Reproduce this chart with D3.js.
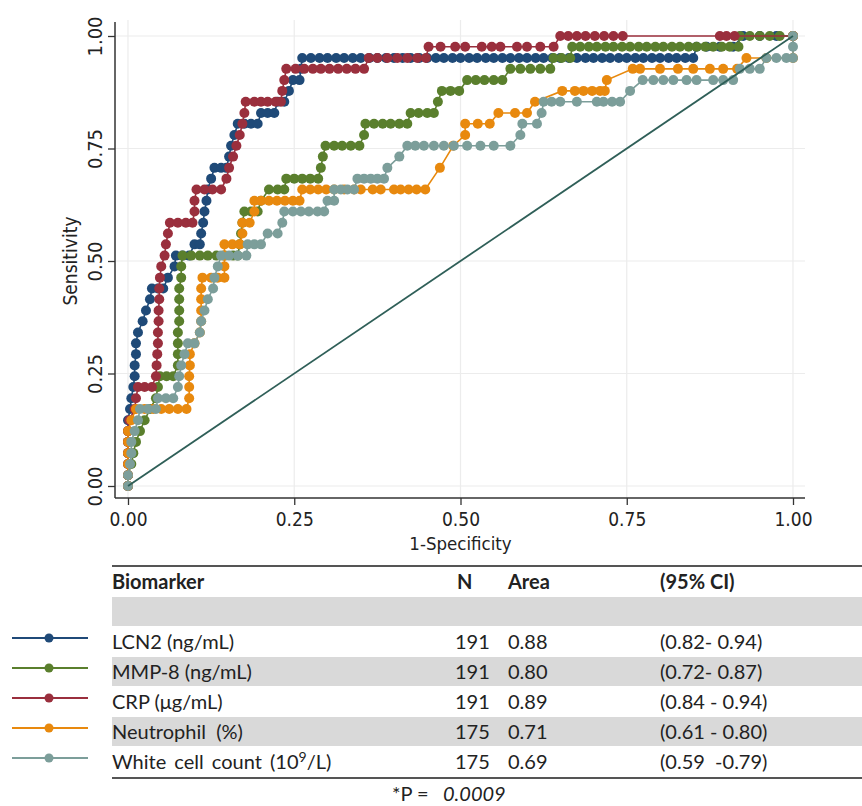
<!DOCTYPE html>
<html>
<head>
<meta charset="utf-8">
<script src="https://cdn.jsdelivr.net/npm/d3@7"></script>
<style>body{margin:0;background:#fff} text{white-space:pre}</style>
</head>
<body>
<script>
// axis ticks
var xTicks = [0, 0.25, 0.5, 0.75, 1]
var yTicks = [0, 0.25, 0.5, 0.75, 1]

// ROC points: [1-specificity, sensitivity]
var lcn2 = [[0,0],[0,.024],[0,.049],[0,.073],[0,.098],[0,.122],[0,.146],[.003,.171],[.005,.195],[.008,.22],[.01,.244],[.01,.268],[.012,.293],[.012,.317],[.015,.341],[.022,.366],[.027,.39],[.033,.415],[.036,.439],[.045,.439],[.053,.439],[.06,.463],[.07,.488],[.072,.512],[.082,.512],[.092,.512],[.1,.537],[.108,.537],[.11,.561],[.113,.585],[.115,.61],[.118,.634],[.12,.659],[.125,.683],[.13,.707],[.14,.707],[.148,.707],[.152,.732],[.155,.756],[.16,.78],[.165,.805],[.175,.805],[.185,.805],[.195,.805],[.2,.829],[.21,.829],[.22,.829],[.225,.854],[.235,.854],[.242,.878],[.248,.902],[.258,.902],[.26,.927],[.262,.951],
  [.275,.951],[.288,.951],[.3,.951],[.313,.951],[.325,.951],[.338,.951],[.35,.951],[.363,.951],[.375,.951],[.388,.951],[.4,.951],[.413,.951],[.425,.951],[.438,.951],[.45,.951],[.463,.951],[.475,.951],[.488,.951],[.5,.951],[.513,.951],[.525,.951],[.538,.951],[.55,.951],[.563,.951],[.575,.951],[.588,.951],[.6,.951],[.613,.951],[.625,.951],[.638,.951],[.65,.951],[.663,.951],[.675,.951],[.688,.951],[.7,.951],[.713,.951],[.725,.951],[.738,.951],[.75,.951],[.763,.951],[.775,.951],[.788,.951],[.8,.951],[.813,.951],[.825,.951],[.838,.951],[.85,.951],
  [.855,.976],[.87,.976],[.89,.976],[.91,.976],[.925,1],[.95,1],[.975,1],[1,1]]
var mmp8 = [[0,0],[0,.024],[.005,.049],[.008,.073],[.012,.098],[.018,.122],[.025,.146],[.033,.171],[.042,.195],[.045,.22],[.048,.244],[.058,.244],[.068,.244],[.075,.268],[.075,.293],[.075,.317],[.075,.341],[.077,.366],[.077,.39],[.077,.415],[.077,.439],[.08,.463],[.08,.488],[.082,.512],[.095,.512],[.108,.512],[.12,.512],[.133,.512],[.145,.512],[.158,.512],[.165,.512],[.168,.537],[.17,.561],[.172,.585],[.175,.61],[.185,.61],[.195,.61],[.2,.634],[.212,.659],[.225,.659],[.235,.659],[.238,.683],[.25,.683],[.262,.683],[.274,.683],[.286,.683],[.29,.707],[.293,.732],[.297,.756],[.31,.756],[.322,.756],[.335,.756],[.348,.756],[.355,.78],[.357,.805],[.37,.805],[.383,.805],[.395,.805],[.408,.805],[.42,.805],[.425,.829],[.437,.829],[.45,.829],[.46,.829],[.466,.854],[.472,.878],[.485,.878],[.498,.878],[.51,.902],[.523,.902],[.536,.902],[.55,.902],[.563,.902],[.575,.927],[.59,.927],[.605,.927],[.62,.927],[.635,.927],[.64,.951],[.652,.951],[.665,.951],
  [.668,.976],[.68,.976],[.693,.976],[.705,.976],[.718,.976],[.73,.976],[.743,.976],[.755,.976],[.768,.976],[.78,.976],[.793,.976],[.805,.976],[.818,.976],[.83,.976],[.843,.976],[.855,.976],[.868,.976],[.88,.976],[.893,.976],[.905,.976],[.918,.976],
  [.92,1],[.935,1],[.95,1],[.965,1],[.98,1],[1,1]]
var crp = [[0,0],[0,.024],[0,.049],[0,.073],[0,.098],[0,.122],[.002,.146],[.01,.171],[.012,.195],[.015,.22],[.025,.22],[.036,.22],[.042,.244],[.043,.268],[.044,.293],[.045,.317],[.045,.341],[.046,.366],[.046,.39],[.047,.415],[.047,.439],[.048,.463],[.05,.488],[.055,.512],[.057,.537],[.06,.561],[.063,.585],[.075,.585],[.087,.585],[.097,.585],[.1,.61],[.1,.634],[.103,.659],[.115,.659],[.127,.659],[.14,.659],[.148,.683],[.152,.707],[.158,.732],[.163,.756],[.168,.78],[.172,.805],[.175,.829],[.177,.854],[.19,.854],[.2,.854],[.21,.854],[.222,.854],[.23,.854],[.232,.878],[.235,.902],[.238,.927],
  [.252,.927],[.265,.927],[.278,.927],[.29,.927],[.303,.927],[.316,.927],[.329,.927],[.342,.927],[.355,.927],[.362,.951],[.375,.951],[.39,.951],[.405,.951],[.42,.951],[.435,.951],[.448,.951],
  [.452,.976],[.47,.976],[.492,.976],[.507,.976],[.532,.976],[.547,.976],[.56,.976],[.585,.976],[.6,.976],[.62,.976],[.64,.976],
  [.65,1],[.662,1],[.675,1],[.688,1],[.702,1],[.716,1],[.73,1],[.744,1],[.89,1],[.9,1],[.912,1],[1,1]]
var neutrophil = [[0,0],[0,.024],[0,.049],[0,.073],[0,.098],[0,.122],[.005,.146],[.012,.171],[.025,.171],[.038,.171],[.05,.171],[.062,.171],[.075,.171],[.088,.171],[.092,.195],[.092,.22],[.092,.244],[.093,.268],[.093,.293],[.1,.317],[.108,.341],[.11,.366],[.11,.39],[.11,.415],[.11,.439],[.112,.463],[.125,.463],[.135,.463],[.145,.463],[.145,.488],[.145,.512],[.145,.537],[.157,.537],[.168,.537],[.172,.561],[.172,.585],[.183,.585],[.19,.61],[.19,.634],[.2,.634],[.212,.634],[.224,.634],[.236,.634],[.248,.634],[.258,.634],
  [.262,.659],[.274,.659],[.286,.659],[.298,.659],[.31,.659],[.325,.659],[.34,.659],[.35,.659],[.368,.659],[.38,.659],[.4,.659],[.41,.659],[.422,.659],[.434,.659],[.447,.659],
  [.469,.707],[.489,.756],[.507,.78],[.507,.805],[.526,.805],[.544,.805],[.557,.829],[.582,.829],[.6,.829],[.612,.854],[.653,.878],[.672,.878],[.685,.878],[.698,.878],[.71,.878],[.717,.878],[.72,.902],
  [.759,.927],[.77,.927],[.8,.927],[.827,.927],[.85,.927],[.875,.927],[.895,.927],[.916,.927],[.93,.951],[.96,.951],[1,.951],[1,1]]
var wbc = [[0,0],[0,.024],[.003,.049],[.005,.073],[.005,.098],[.01,.122],[.015,.146],[.018,.171],[.03,.171],[.042,.171],[.045,.195],[.057,.195],[.068,.195],[.075,.22],[.077,.244],[.08,.268],[.085,.293],[.09,.317],[.1,.317],[.108,.341],[.11,.366],[.115,.39],[.12,.415],[.128,.439],[.13,.463],[.135,.488],[.14,.512],[.152,.512],[.165,.512],[.178,.512],[.18,.537],[.19,.537],[.2,.537],[.21,.561],[.225,.561],[.232,.585],[.235,.61],[.248,.61],[.26,.61],[.272,.61],[.285,.61],[.295,.61],[.3,.634],[.31,.634],[.31,.659],[.32,.659],[.33,.659],[.34,.659],[.345,.683],[.355,.683],[.365,.683],[.375,.683],[.385,.683],[.39,.707],[.408,.732],
  [.42,.756],[.432,.756],[.445,.756],[.46,.756],[.475,.756],[.49,.756],[.51,.756],[.53,.756],[.55,.756],[.575,.756],[.59,.78],[.593,.805],[.615,.805],[.622,.829],[.625,.854],[.637,.854],[.65,.854],[.675,.854],[.705,.854],[.715,.854],[.728,.854],[.74,.854],[.755,.878],
  [.774,.902],[.79,.902],[.805,.902],[.82,.902],[.84,.902],[.855,.902],[.88,.902],[.895,.902],[.91,.902],[.92,.927],[.935,.927],[.95,.927],[.96,.951],[.975,.951],[.99,.951],[1,.951],[1,.976],[1,1]]
var reference = [[0,0],[1,1]]

// table
var markers = ["LCN2 (ng/mL)", "MMP-8 (ng/mL)", "CRP (\u03bcg/mL)", "Neutrophil  (%)", "White cell count (10"]
var nVals = ["191", "191", "191", "175", "175"]
var areas = ["0.88", "0.80", "0.89", "0.71", "0.69"]
var cis = ["(0.82- 0.94)", "(0.72- 0.87)", "(0.84 - 0.94)", "(0.61 - 0.80)", "(0.59  -0.79)"]
var colors = ["#1f4a78", "#5a7f2d", "#9a2f3d", "#e8890e", "#7c9e9a"]
var pValue = "0.0009"

var series = [lcn2, mmp8, crp, neutrophil, wbc].map((pts, i) => ({name: markers[i], color: colors[i], pts: pts}))

var W = 862, H = 806
var plot = {left: 115, right: 805, top: 20, bottom: 498}
var tickFont = "'Liberation Sans Narrow', 'Arial Narrow', 'DejaVu Sans Condensed', sans-serif"
var tableFont = "Lato, 'Open Sans', sans-serif"

var svg = d3.select("body").append("svg")
    .attr("width", W)
    .attr("height", H)

var x = d3.scaleLinear().domain([0, 1]).range([128, 793])
var y = d3.scaleLinear().domain([0, 1]).range([486, 36])

// grid
svg.append("g").selectAll("line").data(xTicks).join("line")
    .attr("x1", d => x(d)).attr("x2", d => x(d))
    .attr("y1", plot.top).attr("y2", plot.bottom)
    .attr("stroke", "#ececec").attr("stroke-width", 1.2)
svg.append("g").selectAll("line").data(yTicks).join("line")
    .attr("x1", plot.left).attr("x2", plot.right)
    .attr("y1", d => y(d)).attr("y2", d => y(d))
    .attr("stroke", "#ececec").attr("stroke-width", 1.2)

// axes
svg.append("g")
    .attr("transform", `translate(0,${plot.bottom})`)
    .call(d3.axisBottom(x).tickValues(xTicks).tickFormat(d3.format(".2f")).tickSize(7).tickPadding(8).tickSizeOuter(0))
    .call(g => g.select(".domain").remove())
    .attr("font-family", tickFont).attr("font-size", 19)
    .call(g => g.selectAll("line").attr("stroke", "#333").attr("stroke-width", 1.3))
    .call(g => g.selectAll("text").attr("fill", "#222"))

svg.append("g")
    .attr("transform", `translate(${plot.left},0)`)
    .call(d3.axisLeft(y).tickValues(yTicks).tickFormat(d3.format(".2f")).tickSize(7).tickSizeOuter(0))
    .call(g => g.select(".domain").remove())
    .attr("font-family", tickFont).attr("font-size", 20)
    .call(g => g.selectAll("line").attr("stroke", "#333").attr("stroke-width", 1.3))
    .call(g => g.selectAll("text")
        .attr("fill", "#222")
        .attr("transform", "rotate(-90)")
        .attr("x", 0).attr("y", -13).attr("dy", 0)
        .attr("text-anchor", "middle"))

svg.append("line")
    .attr("x1", plot.left).attr("x2", plot.left).attr("y1", plot.top + 2).attr("y2", plot.bottom)
    .attr("stroke", "#333").attr("stroke-width", 1.5)
svg.append("line")
    .attr("x1", plot.left).attr("x2", plot.right).attr("y1", plot.bottom).attr("y2", plot.bottom)
    .attr("stroke", "#333").attr("stroke-width", 1.5)

svg.append("text")
    .attr("x", x(0.5)).attr("y", 550)
    .attr("text-anchor", "middle")
    .attr("font-family", tickFont).attr("font-size", 18.5).attr("fill", "#222")
    .text("1-Specificity")
svg.append("text")
    .attr("transform", `translate(77,${y(0.5)}) rotate(-90)`)
    .attr("text-anchor", "middle")
    .attr("font-family", tickFont).attr("font-size", 19).attr("fill", "#222")
    .text("Sensitivity")

// curves
var line = d3.line().x(d => x(d[0])).y(d => y(d[1]))
var curves = svg.append("g").selectAll("g").data(series).join("g")
curves.append("path")
    .attr("d", d => line(d.pts))
    .attr("fill", "none")
    .attr("stroke", d => d.color)
    .attr("stroke-width", 1.6)
curves.each(function(s) {
    d3.select(this).selectAll("circle").data(s.pts).join("circle")
        .attr("cx", d => x(d[0])).attr("cy", d => y(d[1]))
        .attr("r", 5)
        .attr("fill", s.color)
})

svg.append("path")
    .attr("d", line(reference))
    .attr("stroke", "#2f5f58").attr("stroke-width", 1.8).attr("fill", "none")

// table
var tbl = svg.append("g").attr("font-family", tableFont).attr("font-size", 20).attr("fill", "#222")
var rowTop = 597, rowH = 30
var colX = {label: 112, n: 455, area: 508, ci: 660}

tbl.selectAll("rect").data([0, 2, 4]).join("rect")
    .attr("x", 112).attr("width", W - 112)
    .attr("y", d => rowTop + d * rowH).attr("height", rowH - 1)
    .attr("fill", "#d9d9d9")

tbl.append("line").attr("x1", 112).attr("x2", W).attr("y1", 566).attr("y2", 566)
    .attr("stroke", "#555").attr("stroke-width", 2)
tbl.append("line").attr("x1", 112).attr("x2", W).attr("y1", 778).attr("y2", 778)
    .attr("stroke", "#555").attr("stroke-width", 2)

var header = [["Biomarker", colX.label], ["N", colX.n + 2], ["Area", colX.area], ["(95% CI)", colX.ci]]
tbl.selectAll("text.head").data(header).join("text")
    .attr("class", "head")
    .attr("x", d => d[1]).attr("y", 589)
    .attr("font-weight", "bold")
    .text(d => d[0])

var rows = tbl.selectAll("g.row").data(series).join("g")
    .attr("class", "row")
    .attr("transform", (d, i) => `translate(0,${rowTop + (i + 1) * rowH + rowH / 2})`)

rows.append("text").attr("x", colX.label).attr("y", 7)
    .attr("word-spacing", (d, i) => i === 4 ? 3 : 0)
    .text(d => d.name)
    .filter((d, i) => i === 4)
    .call(t => t.append("tspan").attr("font-size", 14).attr("dy", -7).text("9"))
    .call(t => t.append("tspan").attr("dy", 7).text("/L)"))
rows.append("text").attr("x", colX.n).attr("y", 7).text((d, i) => nVals[i])
rows.append("text").attr("x", colX.area).attr("y", 7).text((d, i) => areas[i])
rows.append("text").attr("x", colX.ci).attr("y", 7).text((d, i) => cis[i])

// legend keys
rows.append("line").attr("x1", 12).attr("x2", 88).attr("y1", -4).attr("y2", -4)
    .attr("stroke", d => d.color).attr("stroke-width", 2)
rows.append("circle").attr("cx", 49).attr("cy", -4).attr("r", 4.5)
    .attr("fill", d => d.color)

var p = tbl.append("text").attr("y", 801)
p.append("tspan").attr("x", 392).text("*P =")
p.append("tspan").attr("x", 443).attr("font-style", "italic").text(pValue)
</script>
</body>
</html>
